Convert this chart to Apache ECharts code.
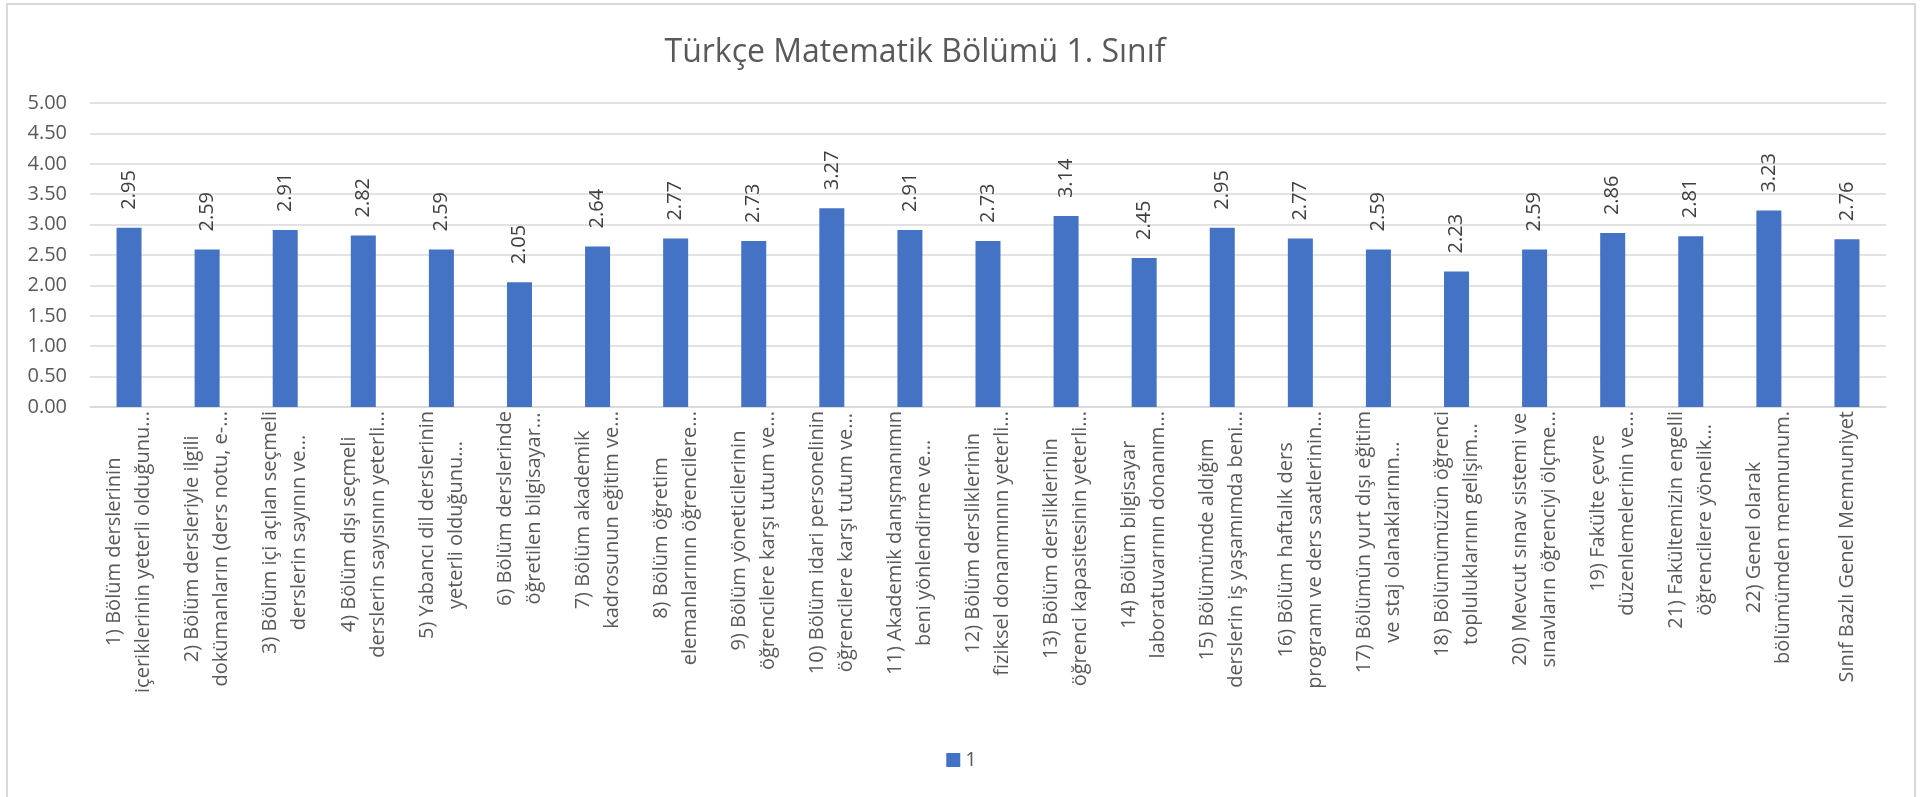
<!DOCTYPE html>
<html>
<head>
<meta charset="utf-8">
<title>Türkçe Matematik Bölümü 1. Sınıf</title>
<script src="https://cdn.jsdelivr.net/npm/echarts@6/dist/echarts.min.js"></script>
<style>
  html, body { margin: 0; padding: 0; background: #fff; }
  #chart { width: 1923px; height: 797px; }
</style>
</head>
<body>
<div id="chart"></div>
<script>
// kategori etiketleri (Excel'deki gibi iki satır, kısaltılmış)
var categories = [
  "1) Bölüm derslerinin\niçeriklerinin yeterli olduğunu...",
  "2) Bölüm dersleriyle ilgili\ndokümanların (ders notu, e-...",
  "3) Bölüm içi açılan seçmeli\nderslerin sayının ve...",
  "4) Bölüm dışı seçmeli\nderslerin sayısının yeterli...",
  "5) Yabancı dil derslerinin\nyeterli olduğunu...",
  "6) Bölüm derslerinde\nöğretilen bilgisayar...",
  "7) Bölüm akademik\nkadrosunun eğitim ve...",
  "8) Bölüm öğretim\nelemanlarının öğrencilere...",
  "9) Bölüm yöneticilerinin\nöğrencilere karşı tutum ve...",
  "10) Bölüm idari personelinin\nöğrencilere karşı tutum ve...",
  "11) Akademik danışmanımın\nbeni yönlendirme ve...",
  "12) Bölüm dersliklerinin\nfiziksel donanımının yeterli...",
  "13) Bölüm dersliklerinin\nöğrenci kapasitesinin yeterli...",
  "14) Bölüm bilgisayar\nlaboratuvarının donanım...",
  "15) Bölümümde aldığım\nderslerin iş yaşamımda beni...",
  "16) Bölüm haftalık ders\nprogramı ve ders saatlerinin...",
  "17) Bölümün yurt dışı eğitim\nve staj olanaklarının...",
  "18) Bölümümüzün öğrenci\ntopluluklarının gelişim...",
  "20) Mevcut sınav sistemi ve\nsınavların öğrenciyi ölçme...",
  "19) Fakülte çevre\ndüzenlemelerinin ve...",
  "21) Fakültemizin engelli\nöğrencilere yönelik...",
  "22) Genel olarak\nbölümümden memnunum.",
  "Sınıf Bazlı Genel Memnuniyet",
];

var values = [
  2.95, 2.59, 2.91, 2.82, 2.59, 2.05, 2.64, 2.77, 2.73, 3.27, 2.91, 2.73,
  3.14, 2.45, 2.95, 2.77, 2.59, 2.23, 2.59, 2.86, 2.81, 3.23, 2.76,
];

var seriesName = "1";
var yTicks = [0, 0.5, 1, 1.5, 2, 2.5, 3, 3.5, 4, 4.5, 5];

var font = "'Open Sans', 'Noto Sans', sans-serif";

var myChart = echarts.init(document.getElementById("chart"));

var option = {
  animation: false,
  title: {
    text: "Türkçe Matematik Bölümü 1. Sınıf",
    left: 910,
    top: 32,
    textAlign: "center",
    textStyle: {
      color: "#595959",
      fontSize: 32,
      fontWeight: "normal",
      fontFamily: font,
    },
  },
  graphic: [
    {
      type: "rect",
      silent: true,
      shape: { x: 7, y: 4, width: 1908, height: 800 },
      style: { fill: "none", stroke: "#d9d9d9", lineWidth: 2 },
    },
  ],
  legend: {
    bottom: 22,
    left: "center",
    itemWidth: 14,
    itemHeight: 14,
    icon: "rect",
    textStyle: { color: "#595959", fontSize: 20, fontFamily: font },
  },
  grid: {
    left: 90,
    right: 37,
    top: 103,
    bottom: 390,
  },
  xAxis: {
    type: "category",
    data: categories,
    axisTick: { show: false },
    axisLine: { lineStyle: { color: "#d9d9d9", width: 1.5 } },
    axisLabel: {
      interval: 0,
      rotate: 90,
      margin: 4,
      formatter: function (val) {
        return val
          .split("\n")
          .map(function (s) {
            return "{c|" + s + "}";
          })
          .join("\n");
      },
      rich: {
        c: {
          align: "center",
          fontSize: 20,
          lineHeight: 29,
          color: "#595959",
          fontFamily: font,
        },
      },
    },
  },
  yAxis: {
    type: "value",
    min: yTicks[0],
    max: yTicks[yTicks.length - 1],
    interval: 0.5,
    axisLine: { show: false },
    axisTick: { show: false },
    axisLabel: {
      margin: 23,
      color: "#595959",
      fontSize: 20,
      fontFamily: font,
      formatter: function (v) {
        return v.toFixed(2);
      },
    },
    splitLine: { lineStyle: { color: "#d9d9d9", width: 1.5 } },
  },
  series: [
    {
      name: seriesName,
      type: "bar",
      data: values,
      barWidth: 25,
      itemStyle: { color: "#4472c4" },
      label: {
        show: true,
        position: "top",
        rotate: 90,
        align: "left",
        verticalAlign: "middle",
        distance: 18,
        color: "#404040",
        fontSize: 20,
        fontFamily: font,
        formatter: function (p) {
          return p.value.toFixed(2);
        },
      },
    },
  ],
};

myChart.setOption(option);
window.addEventListener("resize", function () {
  myChart.resize();
});
</script>
</body>
</html>
